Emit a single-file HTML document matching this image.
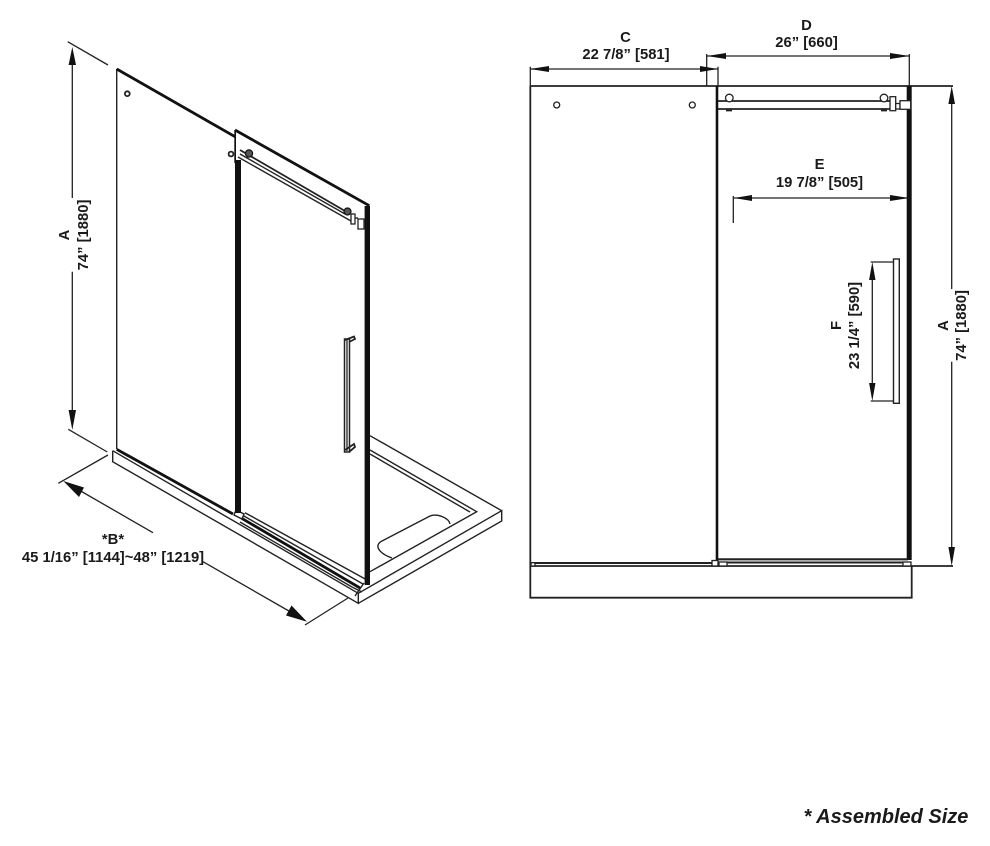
<!DOCTYPE html>
<html>
<head>
<meta charset="utf-8">
<style>
html,body{margin:0;padding:0;background:#fff;width:990px;height:846px;overflow:hidden}
svg{display:block}
text{font-family:"Liberation Sans",Arial,sans-serif;font-weight:bold;font-size:14.8px;fill:#1a1a1a;text-anchor:middle}
.l{stroke:#222;stroke-width:1.4;fill:none}
.m{stroke:#222;stroke-width:1.8;fill:none}
.h{stroke:#111;stroke-width:2.8;fill:none}
.d{stroke:#222;stroke-width:1.3;fill:none}
.a{fill:#111;stroke:none}
.w{fill:#fff;stroke:#222;stroke-width:1.3}
</style>
</head>
<body>
<svg width="990" height="846" viewBox="0 0 990 846" xmlns="http://www.w3.org/2000/svg">
<!-- LEFT ISOMETRIC -->
<!-- dimension A -->
<path class="d" d="M67.7 41.7L108 65M68.3 429.3L107.3 452M72.3 62V198M72.3 271.7V412"/>
<path class="a" d="M72.3 47L76 65H68.6ZM72.3 430L76 410H68.6Z"/>
<g transform="translate(69,235) rotate(-90)"><text x="0" y="0">A</text></g>
<g transform="translate(88,235) rotate(-90)"><text x="0" y="0">74” [1880]</text></g>
<!-- dimension B -->
<path class="d" d="M108 455L58.3 483.3M348 598L305 625M72 486L153 532.7M203 561.7L295 614.5"/>
<path class="a" d="M63.3 481L84 487.5L79 497ZM307 621.7L286 615.5L291.5 605.5Z"/>
<text x="113" y="544">*B*</text>
<text x="113" y="562">45 1/16” [1144]~48” [1219]</text>
<!-- shower base -->
<path class="l" d="M112.7 450.7V461.7L358.3 603.3V593.3M358.3 603.3L501.7 521V510.7L358.3 593.3M370 435.7L501.7 510.7M112.7 450.7L358.3 593.3"/>
<path class="l" d="M370 450L476.7 511.7L370 571.7M370 454L470 512"/>
<path class="l" d="M392 558C378 553 374 545 382 541L430 516C437 513 449 518 450 524"/>
<!-- tracks -->
<path class="h" d="M116.7 449.3L233 514"/>
<path class="h" d="M241.7 518.3L360 588"/>
<path class="l" d="M245 512.7L367 580M240 522L352 587M243 515.5L363 584M236 510L244 514L242 519L234 515Z"/>
<path class="l" d="M352 587L362 592M355 596L364 583"/>
<!-- fixed panel -->
<path class="l" d="M116.7 69V449"/>
<path class="h" d="M116.7 69L235 136.7"/>
<circle class="m" cx="127.3" cy="93.7" r="2.4" fill="#fff"/>
<circle class="m" cx="231" cy="154" r="2.4" fill="#fff"/>
<!-- door -->
<path class="h" d="M235 130L369.3 205.7"/>
<path class="a" d="M234.3 130H236V160H241V513H235V163H234.3Z"/>
<path class="a" d="M364.6 206H370V585H364.6Z"/>
<!-- rail -->
<path class="m" d="M240 150L345 211"/>
<path class="l" d="M240 154L345 214M238 157L351 221"/>
<circle cx="249" cy="153.5" r="3.6" fill="#555" stroke="#111" stroke-width="1.2"/>
<circle cx="347.5" cy="211.5" r="3.5" fill="#555" stroke="#111" stroke-width="1.2"/>
<rect class="w" x="351" y="214" width="4" height="10"/>
<rect class="w" x="358" y="219" width="6" height="10"/>
<path class="l" d="M355 218H358"/>
<!-- handle -->
<path d="M344.5 339V452H349.5V339Z" fill="#fff" stroke="#222" stroke-width="1.5"/>
<path d="M347 340V451" stroke="#333" stroke-width="1.4" fill="none"/>
<path class="m" d="M345 340L354 336.5L355 339L349 342M345 450L354 444L355 447L349 452"/>

<!-- RIGHT FRONT VIEW -->
<!-- dims C, D, E -->
<path class="d" d="M530.3 66.7V86M718 66.7V86M706.7 54V86M909.3 54V86M530 69H718M707 56H909M733.3 196V223M734 198H909"/>
<path class="a" d="M530 69L549 66V72ZM718 69L700 66V72ZM707 56L726 53V59ZM909.3 56L890 53V59ZM734 198L752 195V201ZM909 198L890 195V201Z"/>
<text x="625.5" y="42">C</text>
<text x="626" y="59">22 7/8” [581]</text>
<text x="806.5" y="30">D</text>
<text x="806.5" y="47">26” [660]</text>
<text x="819.5" y="169">E</text>
<text x="819.5" y="187">19 7/8” [505]</text>
<!-- outer frame -->
<path class="m" d="M530.3 86H953M530.3 86V566M530 566H953M530.3 566V597.7H911.7V566"/>
<path class="a" d="M715.7 86H718.3V560H715.7Z"/>
<path class="a" d="M906.7 86H911.7V560H906.7Z"/>
<!-- holes -->
<circle cx="556.7" cy="105" r="3" fill="#fff" stroke="#222" stroke-width="1.3"/>
<circle cx="692.3" cy="105" r="3" fill="#fff" stroke="#222" stroke-width="1.3"/>
<!-- rail -->
<path class="m" d="M718 101H891M718 109H891"/>
<circle cx="729.3" cy="98" r="3.8" fill="#fff" stroke="#222" stroke-width="1.3"/>
<circle cx="884" cy="98" r="3.8" fill="#fff" stroke="#222" stroke-width="1.3"/>
<path class="m" d="M726 110.5H732M881 110.5H887"/>
<rect class="w" x="890" y="96.7" width="5.7" height="14"/>
<rect class="w" x="895.7" y="103.5" width="4.3" height="5.5"/>
<rect class="w" x="900" y="100.7" width="10.7" height="8.6"/>
<!-- bottom tracks -->
<path d="M718 559.3H908" stroke="#222" stroke-width="2.2" fill="none"/>
<path d="M530 563H712M718 562.5H906" stroke="#222" stroke-width="2" fill="none"/>
<rect class="w" x="531" y="562.7" width="4" height="3.3"/>
<rect class="w" x="712" y="560.5" width="6" height="5.5"/>
<rect class="w" x="719" y="562" width="8" height="4"/>
<rect class="w" x="903" y="562" width="8" height="4"/>
<!-- dim A right -->
<path class="d" d="M951.7 100V289M951.7 361.7V550"/>
<path class="a" d="M951.7 86L955 104H948.4ZM951.7 566L955 547H948.4Z"/>
<g transform="translate(948,325.5) rotate(-90)"><text x="0" y="0">A</text></g>
<g transform="translate(966,325.5) rotate(-90)"><text x="0" y="0">74” [1880]</text></g>
<!-- handle and dim F -->
<path d="M893.3 262H870.7M893.3 401H870.7M872.3 275V388" class="d"/>
<path class="a" d="M872.3 262L875.5 280H869.1ZM872.3 401L875.5 383H869.1Z"/>
<rect x="893.5" y="259" width="5.8" height="144.3" fill="#fff" stroke="#222" stroke-width="1.4"/>
<g transform="translate(841,325.5) rotate(-90)"><text x="0" y="0">F</text></g>
<g transform="translate(859,325.5) rotate(-90)"><text x="0" y="0">23 1/4” [590]</text></g>
<!-- note -->
<text x="886" y="823" style="font-size:20px;font-style:italic">* Assembled Size</text>
</svg>
</body>
</html>
